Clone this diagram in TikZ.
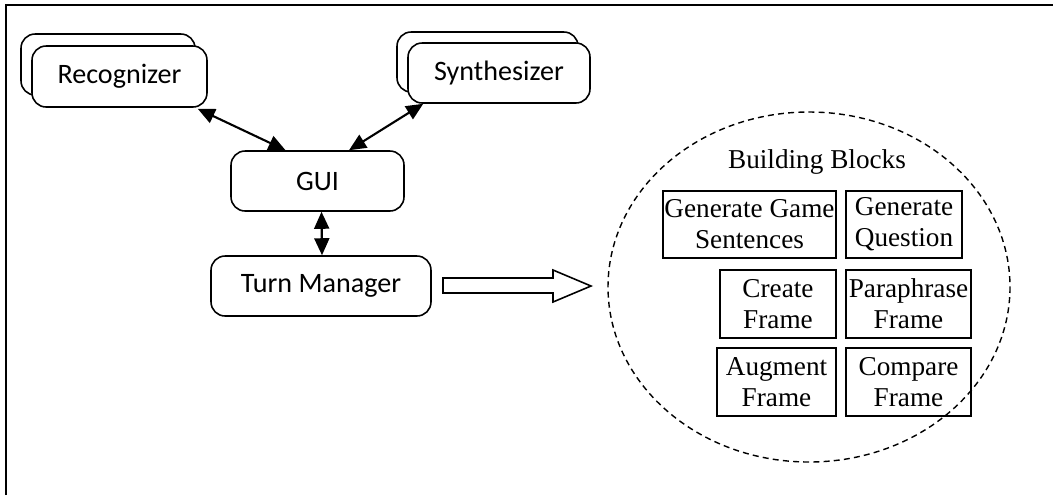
\documentclass[tikz,border=0pt]{standalone}
\usepackage{fontspec}
\setmainfont{Liberation Serif}
\newfontfamily\calibri{Carlito}
\usetikzlibrary{arrows.meta,calc}

\tikzset{
  comp/.style={draw, rounded corners=8pt, fill=white, line width=0.9pt, inner sep=0pt,
    font=\calibri\fontsize{16}{18}\selectfont},
  block/.style={draw, line width=0.9pt, align=center, inner sep=0pt,
    font=\fontsize{15.5}{17.6}\selectfont},
  link/.style={line width=1.2pt, {Triangle[length=3.4mm,width=3mm]}-{Triangle[length=3.4mm,width=3mm]}}
}

\begin{document}
\begin{tikzpicture}[x=0.02cm,y=-0.02cm]
\useasboundingbox (0,0) rectangle (1053,495);
\draw [line width=1.5pt] (6,495) -- (6,5) -- (1053,5);

% components
\node [comp, minimum width=3.48cm, minimum height=1.22cm] (recback) at (108,64.5) {};
\node [comp, minimum width=3.5cm, minimum height=1.22cm] (rec) at (119.5,76.5) {Recognizer};
\node [comp, minimum width=3.62cm, minimum height=1.2cm] (synback) at (487.5,62) {};
\node [comp, minimum width=3.64cm, minimum height=1.2cm] (syn) at (499,73) {Synthesizer};
\node [comp, minimum width=3.46cm, minimum height=1.2cm] (gui) at (317.5,181) {GUI};
\node [comp, minimum width=4.4cm, minimum height=1.2cm] (tm) at (321,286) {Turn Manager};

\draw [link] ($(rec.south east)+(-10,1)$) -- ($(gui.north)+(-32,0)$);
\draw [link] ($(syn.south west)+(16,0)$) -- ($(gui.north)+(31.5,0)$);
\draw [link] ($(gui.south)+(4,0)$) -- ($(tm.north)+(1,0)$);

% block arrow
\draw [line width=0.9pt] (443,278) -- (553,278) -- (553,270) -- (591,286) -- (553,302) -- (553,293) -- (443,293) -- cycle;

% building blocks
\draw [line width=0.8pt, dash pattern=on 3.4pt off 2.4pt] (809,287) ellipse [x radius=201, y radius=175];
\node [font=\fontsize{15.5}{17.6}\selectfont] (bbtitle) at (817,162) {Building Blocks};
\node [block, minimum width=3.46cm, minimum height=1.34cm] (ggs) at (749.5,224.5) {Generate Game\\Sentences};
\node [block, minimum width=2.32cm, minimum height=1.34cm] (gq) at (904,224.5) {Generate\\Question};
\node [block, minimum width=2.32cm, minimum height=1.36cm] (cf) at (778,304) {Create\\Frame};
\node [block, minimum width=2.5cm, minimum height=1.36cm] (pf) at (908.5,304) {Paraphrase\\Frame};
\node [block, minimum width=2.38cm, minimum height=1.36cm] (af) at (776.5,382) {Augment\\Frame};
\node [block, minimum width=2.5cm, minimum height=1.36cm] (cof) at (908.5,382) {Compare\\Frame};

\end{tikzpicture}
\end{document}
